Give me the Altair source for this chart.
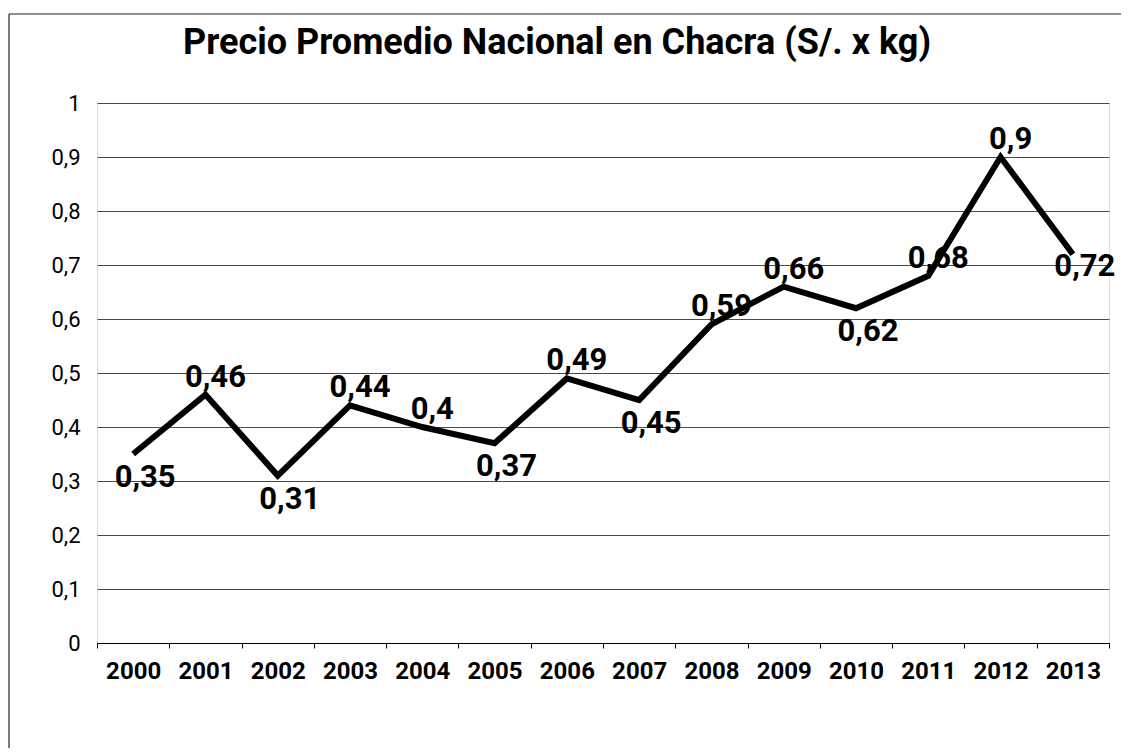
import altair as alt
import pandas as pd

# ---- data ----
years = ["2000", "2001", "2002", "2003", "2004", "2005", "2006",
         "2007", "2008", "2009", "2010", "2011", "2012", "2013"]
prices = [0.35, 0.46, 0.31, 0.44, 0.40, 0.37, 0.49,
          0.45, 0.59, 0.66, 0.62, 0.68, 0.90, 0.72]
label_side = ["below", "above", "below", "above", "above", "below", "above",
              "below", "above", "above", "below", "above", "above", "right"]
y_ticks = [0, 0.1, 0.2, 0.3, 0.4, 0.5, 0.6, 0.7, 0.8, 0.9, 1.0]
title_text = "Precio Promedio Nacional en Chacra (S/. x kg)"

df = pd.DataFrame({
    "year": years,
    "price": prices,
    "label": [f"{p:g}".replace(".", ",") for p in prices],
    "side": label_side,
})

W, H = 1012, 540
FONT = "Roboto"

x_enc = alt.X("year:O", title=None,
              scale=alt.Scale(type="band", paddingInner=0, paddingOuter=0),
              axis=alt.Axis(labelAngle=0, labelFont=FONT, labelFontSize=24,
                            labelFontWeight="bold", labelColor="black",
                            labelPadding=11, tickBand="extent", ticks=True,
                            tickSize=5, tickColor="black", domainColor="black",
                            domainWidth=1, grid=False))
y_enc = alt.Y("price:Q", title=None,
              scale=alt.Scale(domain=[0, 1], nice=False, zero=True),
              axis=alt.Axis(values=y_ticks, labelFont=FONT, labelFontSize=22,
                            labelColor="black", labelPadding=17,
                            labelExpr="replace(format(datum.value, '.1~f'), '.', ',')",
                            ticks=False, tickSize=0, domain=False, grid=True,
                            gridColor="#4a4a4a", gridWidth=1))

base = alt.Chart(df)

line = base.mark_line(color="black", strokeWidth=6, strokeJoin="miter").encode(x=x_enc, y=y_enc)

lab_style = dict(font=FONT, fontSize=31, fontWeight="bold", color="black", align="center")
above = base.transform_filter(alt.datum.side == "above").mark_text(
    baseline="alphabetic", dx=10, dy=-8, **lab_style).encode(x=x_enc, y=y_enc, text="label:N")
below = base.transform_filter(alt.datum.side == "below").mark_text(
    baseline="top", dx=12, dy=9, **lab_style).encode(x=x_enc, y=y_enc, text="label:N")
right = base.transform_filter(alt.datum.side == "right").mark_text(
    baseline="top", dx=12, dy=-2, **lab_style).encode(x=x_enc, y=y_enc, text="label:N")

frame = alt.Chart(pd.DataFrame({"k": [0]}))
border_top = frame.mark_rule(color="#222", strokeWidth=1.2).encode(
    x=alt.value(-88), x2=alt.value(W + 12), y=alt.value(-89))
border_left = frame.mark_rule(color="#222", strokeWidth=1.2).encode(
    x=alt.value(-88), y=alt.value(-89), y2=alt.value(H + 105))

chart = alt.layer(border_top, border_left, line, above, below, right).properties(
    width=W, height=H,
    title=alt.TitleParams(title_text, font=FONT, fontSize=36, fontWeight="bold",
                          color="black", anchor="middle", frame="group",
                          baseline="alphabetic", offset=-77, dx=-46),
    autosize=alt.AutoSizeParams(type="none"),
    padding={"left": 89, "top": 95, "right": 12, "bottom": 105},
).configure_view(stroke=None).configure(background="white")

chart.save("out.html", embed_options={"renderer": "svg", "actions": False})
